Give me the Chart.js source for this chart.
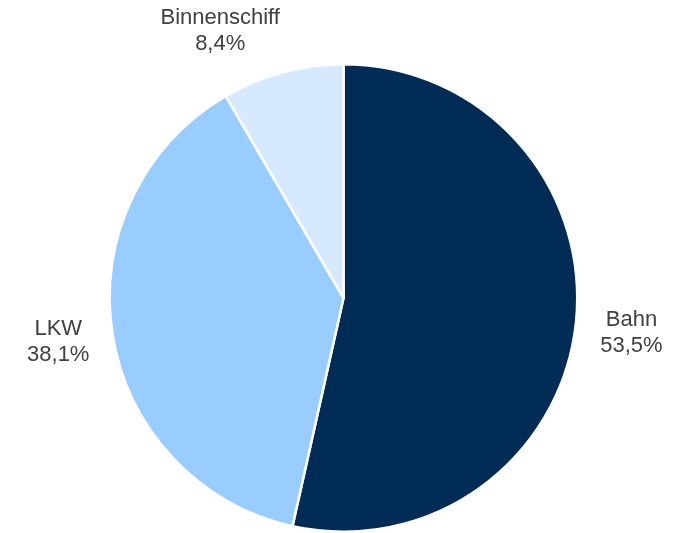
<!DOCTYPE html>
<html><head><meta charset="utf-8">
<script src="https://cdn.jsdelivr.net/npm/chart.js@4"></script>
<style>html,body{margin:0;padding:0;background:#fff}#wrap{width:686px;height:533px}</style>
</head><body><div id="wrap"><canvas id="c"></canvas></div>
<script>
const categories = ["Bahn", "LKW", "Binnenschiff"];
const shares = [53.5, 38.1, 8.4];
const valueLabels = ["53,5%", "38,1%", "8,4%"];
const colors = ["#002B55", "#99CCFF", "#D6E9FF"];

const labelPlugin = {
  id: 'outLabels',
  afterDatasetsDraw(chart, args, opts) {
    const ctx = chart.ctx;
    const meta = chart.getDatasetMeta(0);
    ctx.save();
    ctx.font = '22px "Liberation Sans", Arial, sans-serif';
    ctx.fillStyle = '#404040';
    ctx.textAlign = 'center';
    ctx.textBaseline = 'middle';
    meta.data.forEach((arc, i) => {
      const p = arc.getProps(['x','y','startAngle','endAngle','outerRadius'], true);
      const mid = (p.startAngle + p.endAngle) / 2;
      const r = p.outerRadius * opts.factor;
      const nud = opts.nudge[i] || [0,0];
      const x = p.x + Math.cos(mid) * r + nud[0];
      const y = p.y + Math.sin(mid) * r + nud[1];
      ctx.fillText(categories[i], x, y - 13);
      ctx.fillText(valueLabels[i], x, y + 13);
    });
    ctx.restore();
  }
};

new Chart(document.getElementById('c'), {
  type: 'pie',
  data: {
    labels: categories,
    datasets: [{
      data: shares,
      backgroundColor: colors,
      borderColor: '#ffffff',
      borderWidth: 2.5
    }]
  },
  options: {
    responsive: true,
    maintainAspectRatio: false,
    animation: false,
    layout: { padding: { top: 63, bottom: -2, left: 1, right: 0 } },
    plugins: {
      legend: { display: false },
      tooltip: { enabled: false },
      outLabels: { factor: 1.235, nudge: [[1, 3], [0, 0], [-48, 12]] }
    }
  },
  plugins: [labelPlugin]
});
</script>
</body></html>
